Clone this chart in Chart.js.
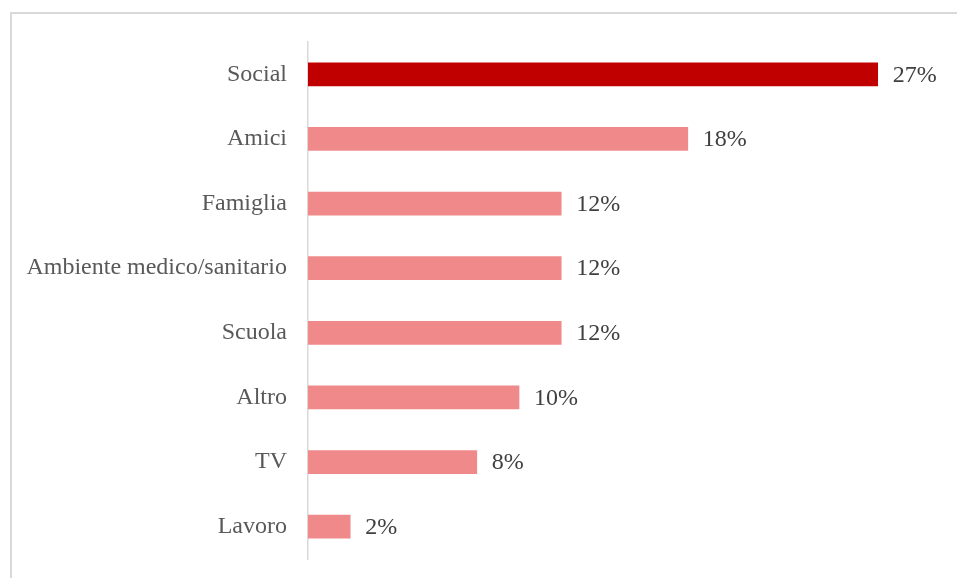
<!DOCTYPE html>
<html>
<head>
<meta charset="utf-8">
<script src="https://cdn.jsdelivr.net/npm/chart.js@4"></script>
<style>
  html,body{margin:0;padding:0;background:#fff;overflow:hidden;}
  #frame{position:absolute;left:10px;top:12px;width:1000px;height:700px;border-left:2px solid #d9d9d9;border-top:2px solid #d9d9d9;}
  #wrap{position:absolute;left:0;top:0;width:957px;height:578px;}
</style>
</head>
<body>
<div id="frame"></div>
<div id="wrap"><canvas id="chart"></canvas></div>
<script>
const categories=['Social','Amici','Famiglia','Ambiente medico/sanitario','Scuola','Altro','TV','Lavoro'];
const values=[27,18,12,12,12,10,8,2];
const barColors=['#C00000','#F08A8A','#F08A8A','#F08A8A','#F08A8A','#F08A8A','#F08A8A','#F08A8A'];
const FONT='"Liberation Serif","Times New Roman",serif';

// etichette valore a destra delle barre
const valueLabels={
  id:'valueLabels',
  afterDatasetsDraw(chart){
    const ctx=chart.ctx, meta=chart.getDatasetMeta(0);
    ctx.save();
    ctx.font='24px '+FONT; ctx.fillStyle='#404040';
    ctx.textAlign='left'; ctx.textBaseline='middle';
    meta.data.forEach((bar,i)=>{ ctx.fillText(values[i]+'%', bar.x+15, bar.y+1); });
    ctx.restore();
  }
};

new Chart(document.getElementById('chart'),{
  type:'bar',
  data:{ labels:categories, datasets:[{ data:values, backgroundColor:barColors, barThickness:23 }] },
  options:{
    indexAxis:'y',
    responsive:true, maintainAspectRatio:false, animation:false,
    layout:{ padding:{ top:42, bottom:19, right:16, left:0 } },
    plugins:{ legend:{display:false}, tooltip:{enabled:false} },
    scales:{
      x:{ display:false, min:0, max:30 },
      y:{
        grid:{ display:false, drawTicks:false },
        border:{ display:true, color:'#d9d9d9', width:1.5 },
        ticks:{ padding:21, color:'#595959', font:{ family:FONT, size:24 } },
        afterFit(s){ s.width=308; s.paddingTop=0; s.paddingBottom=0; }
      }
    }
  },
  plugins:[valueLabels]
});
</script>
</body>
</html>
